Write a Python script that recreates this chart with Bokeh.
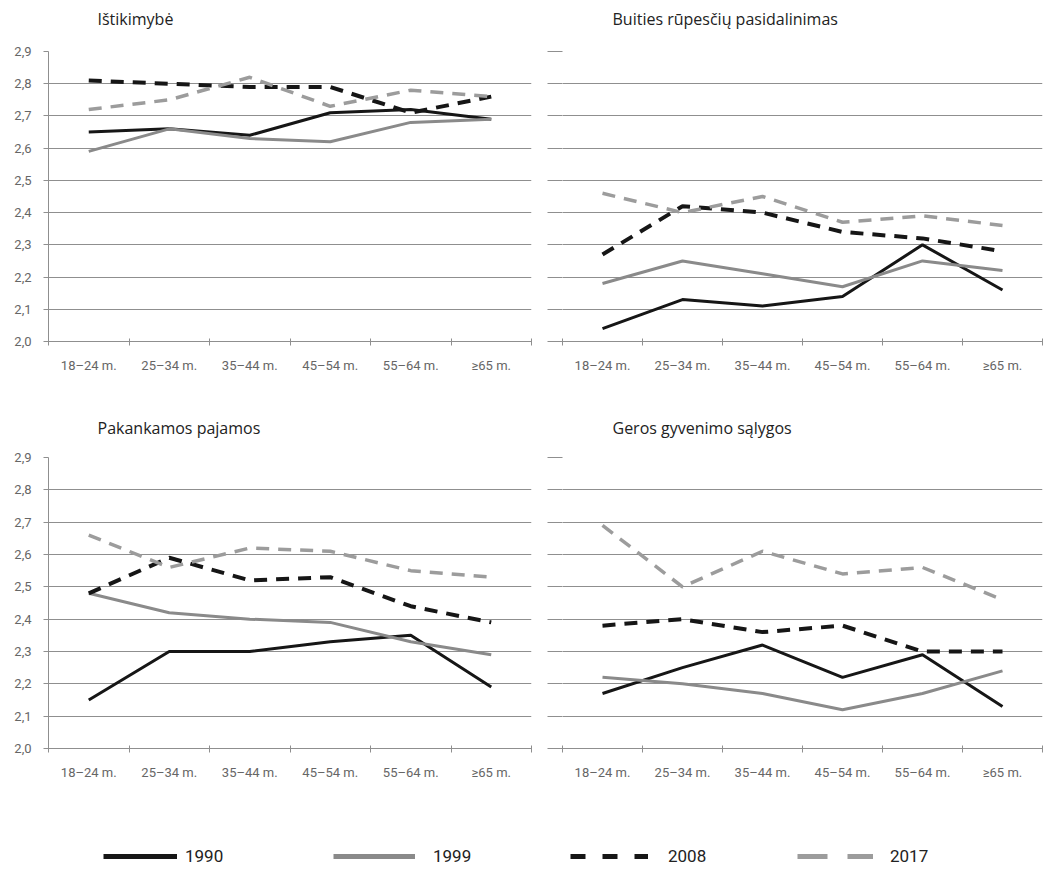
from bokeh.plotting import figure
from bokeh.models import Range1d, FixedTicker, Legend, LegendItem, Label
from bokeh.layouts import column, row
from bokeh.embed import file_html
from bokeh.resources import INLINE

# ---------------- data ----------------
categories = ["18–24 m.", "25–34 m.", "35–44 m.", "45–54 m.", "55–64 m.", "≥65 m."]
years = ["1990", "1999", "2008", "2017"]
ytick_values = [2.0, 2.1, 2.2, 2.3, 2.4, 2.5, 2.6, 2.7, 2.8, 2.9]
ytick_labels = ["2,0", "2,1", "2,2", "2,3", "2,4", "2,5", "2,6", "2,7", "2,8", "2,9"]

titles = ["Ištikimybė", "Buities rūpesčių pasidalinimas",
          "Pakankamos pajamos", "Geros gyvenimo sąlygos"]

istikimybe_1990 = [2.65, 2.66, 2.64, 2.71, 2.72, 2.69]
istikimybe_1999 = [2.59, 2.66, 2.63, 2.62, 2.68, 2.69]
istikimybe_2008 = [2.81, 2.80, 2.79, 2.79, 2.71, 2.76]
istikimybe_2017 = [2.72, 2.75, 2.82, 2.73, 2.78, 2.76]

buities_1990 = [2.04, 2.13, 2.11, 2.14, 2.30, 2.16]
buities_1999 = [2.18, 2.25, 2.21, 2.17, 2.25, 2.22]
buities_2008 = [2.27, 2.42, 2.40, 2.34, 2.32, 2.28]
buities_2017 = [2.46, 2.40, 2.45, 2.37, 2.39, 2.36]

pajamos_1990 = [2.15, 2.30, 2.30, 2.33, 2.35, 2.19]
pajamos_1999 = [2.48, 2.42, 2.40, 2.39, 2.33, 2.29]
pajamos_2008 = [2.48, 2.59, 2.52, 2.53, 2.44, 2.39]
pajamos_2017 = [2.66, 2.56, 2.62, 2.61, 2.55, 2.53]

salygos_1990 = [2.17, 2.25, 2.32, 2.22, 2.29, 2.13]
salygos_1999 = [2.22, 2.20, 2.17, 2.12, 2.17, 2.24]
salygos_2008 = [2.38, 2.40, 2.36, 2.38, 2.30, 2.30]
salygos_2017 = [2.69, 2.50, 2.61, 2.54, 2.56, 2.46]

# ---------------- styles ----------------
STYLES = {
    "1990": dict(color="#161616", line_width=3, line_dash="solid"),
    "1999": dict(color="#8a8a8a", line_width=3, line_dash="solid"),
    "2008": dict(color="#161616", line_width=4, line_dash="13 9"),
    "2017": dict(color="#9c9c9c", line_width=3.5, line_dash="13 9"),
}
TICK_FONT = "Roboto"
TITLE_FONT = "Open Sans"
GRID = "#8f8f8f"
TOTAL_W = 1055

xs = [i + 0.5 for i in range(len(categories))]


def make_title_strip(height, texts, xpos, from_bottom):
    s = figure(frame_width=TOTAL_W, frame_height=height, x_range=Range1d(0, 1), y_range=Range1d(0, 1),
               output_backend="svg", toolbar_location=None,
               x_axis_location=None, y_axis_location=None, min_border=0)
    s.outline_line_color = None
    s.grid.visible = False
    for t, x in zip(texts, xpos):
        s.add_layout(Label(x=x, y=from_bottom, x_units="screen", y_units="screen",
                           text=t, text_font=TITLE_FONT, text_font_size="16px",
                           text_color="#222222", text_baseline="middle", text_align="left"))
    return s


def make_panel(series, left, top, frame_w, frame_h, bottom_border, border_l, border_r):
    p = figure(frame_width=frame_w, frame_height=frame_h,
               x_range=Range1d(0, len(categories)), y_range=Range1d(ytick_values[0], ytick_values[-1]),
               output_backend="svg", toolbar_location=None,
               min_border_left=border_l, min_border_right=border_r,
               min_border_top=top, min_border_bottom=bottom_border)
    p.outline_line_color = None
    p.background_fill_color = "white"
    p.border_fill_color = "white"

    # x axis: labels at category centres, small ticks at category boundaries
    p.xaxis.ticker = FixedTicker(ticks=xs, minor_ticks=list(range(len(categories) + 1)))
    p.xaxis.major_label_overrides = {x: c for x, c in zip(xs, categories)}
    p.xaxis.major_tick_line_color = None
    p.xaxis.major_tick_out = 0
    p.xaxis.major_tick_in = 0
    p.xaxis.minor_tick_line_color = GRID
    p.xaxis.minor_tick_in = 3
    p.xaxis.minor_tick_out = 4
    p.xaxis.axis_line_color = GRID
    p.xaxis.major_label_standoff = 12
    p.xaxis.major_label_text_font = TICK_FONT
    p.xaxis.major_label_text_font_size = "13px"
    p.xaxis.major_label_text_color = "#666666"

    p.yaxis.ticker = FixedTicker(ticks=ytick_values)
    p.yaxis.minor_tick_line_color = None
    if left:
        p.yaxis.major_label_overrides = {v: l for v, l in zip(ytick_values, ytick_labels)}
        p.yaxis.axis_line_color = GRID
        p.yaxis.major_tick_line_color = GRID
        p.yaxis.major_tick_out = 5
        p.yaxis.major_tick_in = 0
        p.yaxis.major_label_standoff = 12
        p.yaxis.major_label_text_font = TICK_FONT
        p.yaxis.major_label_text_font_size = "13px"
        p.yaxis.major_label_text_color = "#666666"
    else:
        p.yaxis.major_label_overrides = {v: "" for v in ytick_values}
        p.yaxis.axis_line_color = None
        p.yaxis.major_tick_line_color = GRID
        p.yaxis.major_tick_out = 15
        p.yaxis.major_tick_in = 0
        p.yaxis.major_label_standoff = 0
        p.yaxis.major_label_text_font_size = "1px"

    p.xgrid.visible = False
    p.ygrid.ticker = FixedTicker(ticks=ytick_values)
    p.ygrid.grid_line_color = GRID
    p.ygrid.grid_line_width = 1

    for yr, vals in zip(years, series):
        st = STYLES[yr]
        p.line(xs, vals, line_color=st["color"], line_width=st["line_width"],
               line_dash=st["line_dash"])
    return p


t1 = make_title_strip(40, titles[0:2], [97, 612], 22)
p1 = make_panel([istikimybe_1990, istikimybe_1999, istikimybe_2008, istikimybe_2017],
                True, 11, 483, 290, 67, 48, 16)
p2 = make_panel([buities_1990, buities_1999, buities_2008, buities_2017],
                False, 11, 480, 290, 67, 15, 13)
t2 = make_title_strip(40, titles[2:4], [97, 612], 21)
p3 = make_panel([pajamos_1990, pajamos_1999, pajamos_2008, pajamos_2017],
                True, 9, 483, 291, 36, 48, 16)
p4 = make_panel([salygos_1990, salygos_1999, salygos_2008, salygos_2017],
                False, 9, 480, 291, 36, 15, 13)

# ---------------- legend strip ----------------
pl = figure(frame_width=TOTAL_W, frame_height=84, x_range=Range1d(0, 1), y_range=Range1d(0, 1),
            output_backend="svg", toolbar_location=None,
            x_axis_location=None, y_axis_location=None, min_border=0)
pl.outline_line_color = None
pl.grid.visible = False

LEG = {
    "1990": dict(x=103, gw=74, so=8, dash="solid", color="#161616", vals=istikimybe_1990),
    "1999": dict(x=333, gw=82, so=18, dash="solid", color="#8a8a8a", vals=istikimybe_1999),
    "2008": dict(x=570, gw=78, so=20, dash="15 17", color="#161616", vals=istikimybe_2008),
    "2017": dict(x=797, gw=76, so=17, dash="30 20", color="#9c9c9c", vals=istikimybe_2017),
}
for yr in years:
    cfg = LEG[yr]
    # renderer lies outside this strip's ranges: it only feeds the legend glyph
    r = pl.line(xs, cfg["vals"], line_color=cfg["color"], line_width=5, line_dash=cfg["dash"])
    leg = Legend(items=[LegendItem(label=yr, renderers=[r])], location=(cfg["x"], 2),
                 orientation="horizontal", glyph_width=cfg["gw"], glyph_height=16,
                 label_height=16, label_standoff=cfg["so"], padding=0, margin=0,
                 border_line_color=None, background_fill_alpha=0,
                 label_text_font=TICK_FONT, label_text_font_size="17px",
                 label_text_color="#222222", label_text_baseline="middle")
    pl.add_layout(leg)

layout = column(t1, row(p1, p2), t2, row(p3, p4), pl)

open("out.html", "w").write(file_html(layout, INLINE))
